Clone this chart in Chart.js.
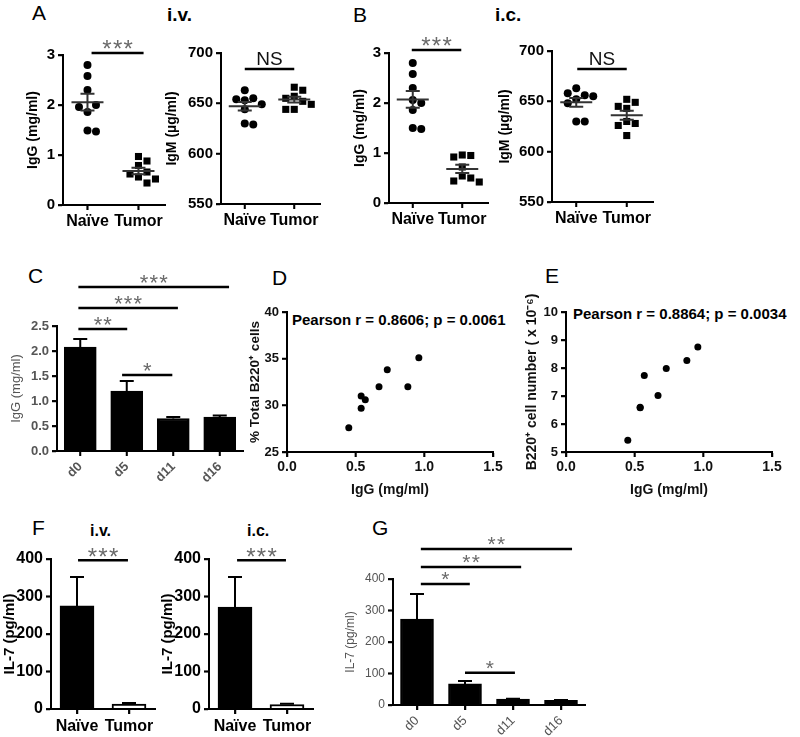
<!DOCTYPE html>
<html>
<head>
<meta charset="utf-8">
<script src="https://cdn.jsdelivr.net/npm/chart.js@4.4.1/dist/chart.umd.min.js"></script>
<style>
body { margin: 0; background: #fff; width: 800px; height: 737px; position: relative; overflow: hidden;
       font-family: "Liberation Sans", Arial, sans-serif; }
canvas { position: absolute; }
.lbl { position: absolute; line-height: 1; white-space: nowrap; color: #000; }
.big { font-size: 21px; }
.sub { font-size: 19px; font-weight: bold; }
.subs { font-size: 16px; font-weight: bold; }
.pear { font-size: 15px; font-weight: bold; }
</style>
</head>
<body>
<div class="lbl big" style="left:32px;top:2px">A</div>
<div class="lbl sub" style="left:167px;top:5px">i.v.</div>
<div class="lbl big" style="left:353px;top:4px">B</div>
<div class="lbl sub" style="left:495px;top:5px">i.c.</div>
<div class="lbl big" style="left:28px;top:265px">C</div>
<div class="lbl big" style="left:272px;top:267px">D</div>
<div class="lbl big" style="left:545px;top:265px">E</div>
<div class="lbl big" style="left:32px;top:517px">F</div>
<div class="lbl subs" style="left:90px;top:523px">i.v.</div>
<div class="lbl subs" style="left:247px;top:523px">i.c.</div>
<div class="lbl big" style="left:372px;top:517px">G</div>
<div class="lbl pear" style="left:292px;top:312px">Pearson r = 0.8606; p = 0.0061</div>
<div class="lbl pear" style="left:573px;top:306px">Pearson r = 0.8864; p = 0.0034</div>

<script>
// ---- values ----
var groups = ['Naïve', 'Tumor'];
var ivIgGNaive = [2.80, 2.58, 2.30, 1.86, 2.00, 1.96, 1.49, 1.47];
var ivIgGTumor = [0.97, 0.88, 0.79, 0.66, 0.62, 0.56, 0.52, 0.44];
var ivIgMNaive = [663, 655, 653, 654, 649, 644, 630, 629];
var ivIgMTumor = [666, 663, 657, 655, 652, 649, 644, 644];
var icIgGNaive = [2.80, 2.58, 2.30, 1.86, 2.06, 2.00, 1.50, 1.48];
var icIgGTumor = [0.96, 0.95, 0.92, 0.72, 0.54, 0.50, 0.44, 0.42];
var icIgMNaive = [663, 656, 658, 655, 652, 648, 630, 630];
var icIgMTumor = [652, 649, 645, 643, 630, 628, 626, 616];

var days = ['d0', 'd5', 'd11', 'd16'];
var igGByDay = [2.08, 1.20, 0.65, 0.68];
var igGByDayErr = [0.16, 0.20, 0.03, 0.03];

var igG = [0.45, 0.54, 0.54, 0.57, 0.67, 0.73, 0.88, 0.96];
var b220Pct = [27.6, 29.7, 31.0, 30.6, 32.0, 33.8, 32.0, 35.1];
var b220Num = [5.42, 6.60, 6.58, 7.73, 7.02, 7.98, 8.27, 8.75];

var il7Iv = [275, 13], il7IvErr = [77, 3];
var il7Ic = [272, 12], il7IcErr = [80, 2];
var il7ByDay = [273, 67, 19, 15], il7ByDayErr = [79, 9, 1, 1];

// significance brackets: [from, to, level, label] in axis units
var sigIvIgG = [[0.08, 1.10, 3.04, '***']];
var sigIvIgM = [[0.00, 1.00, 684, 'NS']];
var sigIcIgG = [[-0.02, 0.98, 3.06, '***']];
var sigIcIgM = [[0.02, 1.00, 682, 'NS']];
var sigIgGDay = [[-0.04, 3.2, 3.28, '***'], [-0.04, 2.1, 2.86, '***'], [-0.04, 1.01, 2.44, '**'], [0.9, 1.98, 1.52, '*']];
var sigIv = [[0.02, 0.98, 397, '***']];
var sigIc = [[0.04, 0.98, 397, '***']];
var sigIl7Day = [[0.08, 3.23, 495, '**'], [0.08, 2.17, 438, '**'], [0.08, 1.1, 384, '*'], [1.0, 2.04, 102, '*']];

// ---- helpers ----
var FAM = '"Liberation Sans", Arial, sans-serif';
function f(size, weight) { return { family: FAM, size: size, weight: weight || 'normal' }; }

var gridOpts = { drawOnChartArea: false, drawTicks: true, tickLength: 5, tickWidth: 1.5, tickColor: '#000', offset: false };
var borderOpts = { display: true, color: '#000', width: 2 };

function makeCanvas(area, yW, xH) {
    var padTop = 70, padRight = 14;
    var c = document.createElement('canvas');
    var w = area.r - area.l + yW + padRight;
    var h = Math.round(area.b - area.t + padTop + xH);
    c.width = w; c.height = h;
    c.style.left = (area.l - yW) + 'px';
    c.style.top = (area.t - padTop) + 'px';
    document.body.appendChild(c);
    return { canvas: c, layout: { padding: { top: padTop, right: padRight, left: 0, bottom: 0 } } };
}

function yAxis(o) {
    return {
        type: 'linear', position: 'left', min: o.min, max: o.max,
        afterFit: function(s) { s.width = o.w; },
        afterBuildTicks: function(s) {
            var t = [];
            for (var v = o.min; v <= o.max + 1e-9; v += o.step) t.push({ value: Math.round(v * 100) / 100 });
            s.ticks = t;
        },
        ticks: { color: o.color || '#000', font: o.tickFont, padding: 3, autoSkip: false,
                 callback: o.fmt || function(v) { return String(v); } },
        grid: gridOpts, border: borderOpts,
        title: { display: true, text: o.title, color: o.color || '#000', font: o.titleFont, padding: 0 }
    };
}

// spreads points sideways like a dot plot so they don't overlap
function swarm(vals, center, pxY, pxX) {
    var d = 8.5, placed = [];
    return vals.map(function(v) {
        var py = v * pxY, off = 0;
        var tries = [0, 1, -1, 2, -2];
        for (var k = 0; k < tries.length; k++) {
            var px = tries[k] * d;
            var ok = placed.every(function(p) { return Math.hypot(p.x - px, p.y - py) >= d; });
            if (ok) { off = px; break; }
        }
        placed.push({ x: off, y: py });
        return { x: center + off / pxX, y: v };
    });
}

// axis lines and outward tick marks, positioned from the scales themselves
function drawAxes(chart) {
    var ctx = chart.ctx, x = chart.scales.x, y = chart.scales.y;
    var left = x.left, right = x.right;
    var top = y.getPixelForValue(y.max), bottom = y.getPixelForValue(y.min);
    ctx.save();
    ctx.setLineDash([]);
    ctx.globalAlpha = 1;
    ctx.strokeStyle = '#000';
    ctx.lineWidth = 1.5;
    ctx.beginPath();
    y.ticks.forEach(function(t) {
        var p = y.getPixelForValue(t.value);
        ctx.moveTo(left - 5, p); ctx.lineTo(left, p);
    });
    x.ticks.forEach(function(t, i) {
        var p = x.getPixelForTick(i);
        ctx.moveTo(p, bottom); ctx.lineTo(p, bottom + 5);
    });
    ctx.stroke();
    ctx.lineWidth = 2;
    ctx.beginPath();
    ctx.moveTo(left, top - 1);
    ctx.lineTo(left, bottom);
    ctx.lineTo(right, bottom);
    ctx.stroke();
    ctx.restore();
}

function drawStars(ctx, cx, lineY, n, st) {
    ctx.font = st.size + 'px ' + FAM;
    ctx.fillStyle = '#6a6a6a';
    ctx.textAlign = 'center';
    ctx.textBaseline = 'alphabetic';
    var base = lineY - st.gap + 0.56 * st.size;
    for (var i = 0; i < n; i++) ctx.fillText('*', cx + (i - (n - 1) / 2) * st.sp, base);
}

function overlay(cfg) {
    return {
        id: 'overlay',
        afterDatasetsDraw: function(chart) {
            var ctx = chart.ctx, x = chart.scales.x, y = chart.scales.y;
            ctx.save();
            ctx.strokeStyle = '#000';
            ctx.lineWidth = 2;
            if (cfg.err) {
                var meta = chart.getDatasetMeta(0);
                var vals = chart.data.datasets[0].data;
                meta.data.forEach(function(bar, i) {
                    var top = y.getPixelForValue(vals[i] + cfg.err[i]);
                    ctx.beginPath();
                    ctx.moveTo(bar.x, bar.y); ctx.lineTo(bar.x, top);
                    ctx.moveTo(bar.x - cfg.cap, top); ctx.lineTo(bar.x + cfg.cap, top);
                    ctx.stroke();
                });
            }
            if (cfg.groups) {
                ctx.strokeStyle = '#333';
                cfg.groups.forEach(function(vals, i) {
                    var n = vals.length;
                    var mean = vals.reduce(function(a, b) { return a + b; }, 0) / n;
                    var sd = Math.sqrt(vals.reduce(function(a, b) { return a + (b - mean) * (b - mean); }, 0) / (n - 1));
                    var sem = sd / Math.sqrt(n);
                    var cx = x.getPixelForValue(i), my = y.getPixelForValue(mean);
                    var hi = y.getPixelForValue(mean + sem), lo = y.getPixelForValue(mean - sem);
                    ctx.beginPath();
                    ctx.moveTo(cx - 16, my); ctx.lineTo(cx + 16, my);
                    ctx.moveTo(cx, hi); ctx.lineTo(cx, lo);
                    ctx.moveTo(cx - 7, hi); ctx.lineTo(cx + 7, hi);
                    ctx.moveTo(cx - 7, lo); ctx.lineTo(cx + 7, lo);
                    ctx.stroke();
                });
                ctx.strokeStyle = '#000';
            }
            if (cfg.sig) {
                cfg.sig.forEach(function(s) {
                    var x0 = x.getPixelForValue(s[0]), x1 = x.getPixelForValue(s[1]);
                    var py = y.getPixelForValue(s[2]);
                    ctx.lineWidth = 2.5;
                    ctx.beginPath(); ctx.moveTo(x0, py); ctx.lineTo(x1, py); ctx.stroke();
                    var cx = (x0 + x1) / 2;
                    if (s[3] === 'NS') {
                        ctx.font = '19px ' + FAM;
                        ctx.fillStyle = '#111';
                        ctx.textAlign = 'center';
                        ctx.textBaseline = 'alphabetic';
                        ctx.fillText('NS', cx, py - 4);
                    } else {
                        drawStars(ctx, cx, py, s[3].length, cfg.star);
                    }
                });
            }
            ctx.restore();
            drawAxes(chart);
        },
        afterDraw: function(chart) {
            drawAxes(chart);
        }
    };
}

function baseOptions(layout, scales) {
    return {
        responsive: false, animation: false, devicePixelRatio: 1,
        layout: layout, scales: scales,
        plugins: { legend: { display: false }, tooltip: { enabled: false } }
    };
}

// ---- panel builders ----
function groupPanel(area, yOpt, naive, tumor, sig) {
    var m = makeCanvas(area, yOpt.w, 30);
    var pxY = (area.b - area.t) / (yOpt.max - yOpt.min);
    var pxX = (area.r - area.l) / 2.0;
    var xScale = {
        type: 'linear', position: 'bottom', min: -0.48, max: 1.52,
        afterFit: function(s) { s.height = 30; },
        afterBuildTicks: function(s) { s.ticks = [{ value: 0 }, { value: 1 }]; },
        ticks: { callback: function(v) { return groups[v]; }, font: f(16, 'bold'), color: '#000', padding: 2, maxRotation: 0 },
        grid: gridOpts, border: borderOpts
    };
    new Chart(m.canvas, {
        type: 'scatter',
        data: { datasets: [
            { data: swarm(naive, 0, pxY, pxX), pointStyle: 'circle', pointRadius: 4, backgroundColor: '#000', borderWidth: 0 },
            { data: swarm(tumor, 1, pxY, pxX), pointStyle: 'rect', pointRadius: 5, backgroundColor: '#000', borderWidth: 0 }
        ] },
        options: baseOptions(m.layout, { x: xScale, y: yAxis(yOpt) }),
        plugins: [overlay({ groups: [naive, tumor], sig: sig, star: { size: 24, gap: 9, sp: 10.7 } })]
    });
}

function barPanel(area, labels, vals, errs, yOpt, xOpt, sig, fills, thick, star) {
    var m = makeCanvas(area, yOpt.w, xOpt.h);
    var xScale = {
        type: 'category', position: 'bottom',
        afterFit: function(s) { s.height = xOpt.h; },
        ticks: { font: xOpt.font, color: xOpt.color, padding: 3, minRotation: xOpt.rot, maxRotation: xOpt.rot },
        grid: gridOpts, border: borderOpts
    };
    new Chart(m.canvas, {
        type: 'bar',
        data: { labels: labels, datasets: [{
            data: vals, backgroundColor: fills, borderColor: '#000', borderWidth: 2, barThickness: thick
        }] },
        options: baseOptions(m.layout, { x: xScale, y: yAxis(yOpt) }),
        plugins: [overlay({ err: errs, cap: 7, sig: sig, star: star })]
    });
}

function corrPanel(area, xs, ys, yOpt) {
    var m = makeCanvas(area, yOpt.w, 47);
    var pts = xs.map(function(v, i) { return { x: v, y: ys[i] }; });
    var xScale = {
        type: 'linear', position: 'bottom', min: 0, max: 1.5,
        afterFit: function(s) { s.height = 47; },
        ticks: { stepSize: 0.5, font: f(14, 'bold'), color: '#111', padding: 2, maxRotation: 0,
                 callback: function(v) { return v.toFixed(1); } },
        grid: gridOpts, border: borderOpts,
        title: { display: true, text: 'IgG (mg/ml)', font: f(14, 'bold'), color: '#111', padding: 0 }
    };
    new Chart(m.canvas, {
        type: 'scatter',
        data: { datasets: [{ data: pts, pointRadius: 3.5, backgroundColor: '#000', borderWidth: 0 }] },
        options: baseOptions(m.layout, { x: xScale, y: yAxis(yOpt) }),
        plugins: [overlay({})]
    });
}

// A
groupPanel({ l: 63, t: 55, r: 165, b: 204.5 },
    { min: 0, max: 3, step: 1, w: 38, title: 'IgG (mg/ml)', tickFont: f(15, 'bold'), titleFont: f(14, 'bold') },
    ivIgGNaive, ivIgGTumor, sigIvIgG);
groupPanel({ l: 221, t: 53, r: 320, b: 204 },
    { min: 550, max: 700, step: 50, w: 57, title: 'IgM (\u00b5g/ml)', tickFont: f(15, 'bold'), titleFont: f(14, 'bold') },
    ivIgMNaive, ivIgMTumor, sigIvIgM);
// B
groupPanel({ l: 389, t: 53, r: 488, b: 203 },
    { min: 0, max: 3, step: 1, w: 37, title: 'IgG (mg/ml)', tickFont: f(15, 'bold'), titleFont: f(14, 'bold') },
    icIgGNaive, icIgGTumor, sigIcIgG);
groupPanel({ l: 552, t: 51, r: 653, b: 202 },
    { min: 550, max: 700, step: 50, w: 55, title: 'IgM (\u00b5g/ml)', tickFont: f(15, 'bold'), titleFont: f(14, 'bold') },
    icIgMNaive, icIgMTumor, sigIcIgM);

// C
barPanel({ l: 57, t: 326, r: 243, b: 451 }, days, igGByDay, igGByDayErr,
    { min: 0, max: 2.5, step: 0.5, w: 48, title: 'IgG (mg/ml)', color: '#555', tickFont: f(13, 'bold'), titleFont: f(13),
      fmt: function(v) { return v.toFixed(1); } },
    { h: 40, font: f(13, 'bold'), color: '#555', rot: 45 },
    sigIgGDay, '#000', 32, { size: 22, gap: 9, sp: 9.7 });

// D, E
corrPanel({ l: 287, t: 312, r: 493, b: 452 }, igG, b220Pct,
    { min: 25, max: 40, step: 5, w: 40, title: '% Total B220\u207a cells', color: '#111', tickFont: f(13, 'bold'), titleFont: f(13.5, 'bold') });
corrPanel({ l: 566, t: 312, r: 772, b: 452 }, igG, b220Num,
    { min: 5, max: 10, step: 1, w: 42, title: 'B220\u207a cell number ( x 10\u207b\u2076)', color: '#111', tickFont: f(13, 'bold'), titleFont: f(14, 'bold') });

// F
barPanel({ l: 51, t: 559, r: 155, b: 709 }, groups, il7Iv, il7IvErr,
    { min: 0, max: 400, step: 100, w: 50, title: 'IL-7 (pg/ml)', tickFont: f(16, 'bold'), titleFont: f(15, 'bold') },
    { h: 30, font: f(16, 'bold'), color: '#000', rot: 0 },
    sigIv, ['#000', '#fff'], 34, { size: 24, gap: 9, sp: 10.7 });
barPanel({ l: 209, t: 559, r: 313, b: 709 }, groups, il7Ic, il7IcErr,
    { min: 0, max: 400, step: 100, w: 50, title: 'IL-7 (pg/ml)', tickFont: f(16, 'bold'), titleFont: f(15, 'bold') },
    { h: 30, font: f(16, 'bold'), color: '#000', rot: 0 },
    sigIc, ['#000', '#fff'], 34, { size: 24, gap: 9, sp: 10.7 });

// G
barPanel({ l: 393, t: 579, r: 585, b: 705 }, days, il7ByDay, il7ByDayErr,
    { min: 0, max: 400, step: 100, w: 50, title: 'IL-7 (pg/ml)', color: '#555', tickFont: f(12), titleFont: f(12) },
    { h: 35, font: f(13), color: '#555', rot: 45 },
    sigIl7Day, '#000', 33, { size: 21, gap: 10, sp: 9.5 });
</script>
</body>
</html>
